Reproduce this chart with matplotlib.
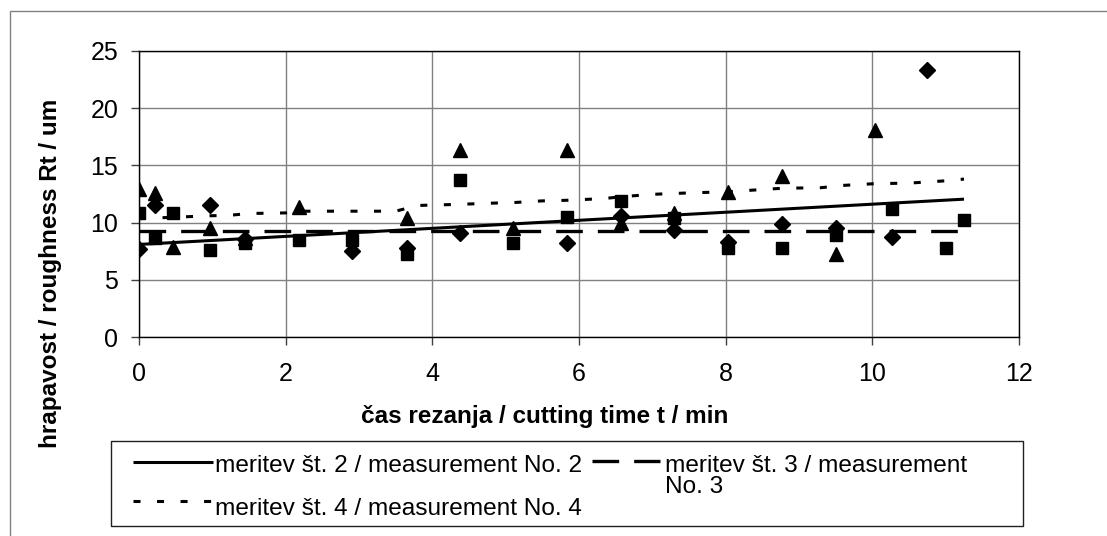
import matplotlib
matplotlib.use("Agg")
import matplotlib.pyplot as plt
from matplotlib.lines import Line2D
from matplotlib.patches import Rectangle

plt.rcParams['font.family'] = ['Liberation Sans', 'DejaVu Sans']

# measurement No. 2 (diamonds)
t2 = [0, 0.22, 0.97, 1.45, 2.9, 3.65, 4.38, 5.83, 6.57, 7.3, 8.03, 8.77, 9.5, 10.27, 10.75]
r2 = [7.7, 11.5, 11.5, 8.6, 7.55, 7.8, 9.07, 8.25, 10.6, 9.4, 8.3, 9.9, 9.5, 8.77, 23.3]
# measurement No. 3 (squares)
t3 = [0, 0.22, 0.47, 0.97, 1.45, 2.18, 2.9, 3.65, 4.38, 5.1, 5.83, 6.57, 7.3, 8.03, 8.77, 9.5, 10.27, 11.0, 11.25]
r3 = [10.8, 8.7, 10.8, 7.6, 8.2, 8.5, 8.5, 7.3, 13.7, 8.2, 10.46, 11.9, 10.37, 7.76, 7.76, 8.9, 11.16, 7.76, 10.2]
# measurement No. 4 (triangles)
t4 = [0, 0.22, 0.47, 0.97, 1.45, 2.18, 3.65, 4.38, 5.1, 5.83, 6.57, 7.3, 8.03, 8.77, 9.5, 10.03]
r4 = [12.9, 12.55, 7.9, 9.5, 8.7, 11.4, 10.4, 16.3, 9.5, 16.3, 10.0, 10.8, 12.7, 14.06, 7.3, 18.07]

# trend lines
trend2_t = [0, 11.25]
trend2_v = [8.1, 12.05]
trend3_t = [0, 11.25]
trend3_v = [9.3, 9.3]
trend4_t = [0, 0.97, 1.25, 1.5, 2.0, 2.18, 3.5, 3.8, 4.38, 4.8, 5.1, 5.5, 5.83, 6.33, 6.65, 7.0, 7.3, 8.03, 8.77, 9.3, 9.6, 10.03, 10.5, 10.75, 11.0, 11.25]
trend4_v = [10.35, 10.6, 10.65, 10.8, 10.85, 11.0, 11.0, 11.5, 11.6, 11.7, 11.75, 11.9, 11.95, 12.1, 12.3, 12.47, 12.55, 12.7, 13.0, 13.05, 13.25, 13.4, 13.45, 13.55, 13.65, 13.8]

xticks = [0, 2, 4, 6, 8, 10, 12]
yticks = [0, 5, 10, 15, 20, 25]

label2 = "meritev št. 2 / measurement No. 2"
label3a = "meritev št. 3 / measurement"
label3b = "No. 3"
label4 = "meritev št. 4 / measurement No. 4"
xlabel = "čas rezanja / cutting time t / min"
ylabel = "hrapavost / roughness Rt / um"

W, H = 1107, 536
fig = plt.figure(figsize=(W / 100, H / 100), dpi=100)
fig.patch.set_facecolor('white')

def fx(px):
    return px / W

def fy(py):
    return 1 - py / H

# outer chart border
fig.add_artist(Rectangle((fx(10), fy(545)), fx(1107 + 20) - fx(10), fy(11) - fy(545),
                         transform=fig.transFigure, fill=False, edgecolor='#808080', lw=1.0))

ax = fig.add_axes([fx(139), fy(337.3), fx(1019) - fx(139), fy(50.7) - fy(337.3)])

sty_solid = dict(color='black', lw=2.2, solid_capstyle='butt')
sty_dash = dict(color='black', lw=2.4, dashes=(8, 4.5), dash_capstyle='butt')
sty_dot = dict(color='black', lw=2.2, dashes=(2.3, 5.4), dash_capstyle='butt')

ax.plot(t2, r2, linestyle='none', marker='D', ms=8.3, color='black', zorder=3)
ax.plot(t3, r3, linestyle='none', marker='s', ms=9.0, color='black', zorder=3)
ax.plot(t4, r4, linestyle='none', marker='^', ms=9.5, color='black', zorder=3)

ax.plot(trend2_t, trend2_v, zorder=4, **sty_solid)
ax.plot(trend3_t, trend3_v, zorder=4, **sty_dash)
ax.plot(trend4_t, trend4_v, zorder=4, **sty_dot)

ax.set_xlim(0, 12)
ax.set_ylim(0, 25)
ax.set_xticks(xticks)
ax.set_yticks(yticks)
ax.grid(True, color='#808080', lw=1.0)
ax.set_axisbelow(True)
for s in ax.spines.values():
    s.set_color('black')
    s.set_linewidth(1.0)
ax.tick_params(axis='both', direction='out', length=5.5, width=1.0, color='#404040',
               labelsize=18)
ax.tick_params(axis='x', pad=12)
ax.tick_params(axis='y', pad=9.5)

fig.text(fx(51), fy(273), ylabel, rotation=90, ha='center', va='center',
         fontsize=17.5, fontweight='bold')
fig.text(fx(545), fy(416), xlabel, ha='center', va='center',
         fontsize=17.5, fontweight='bold')

# legend box
fig.add_artist(Rectangle((fx(111), fy(526)), fx(1023) - fx(111), fy(441) - fy(526),
                         transform=fig.transFigure, fill=True, facecolor='white',
                         edgecolor='#202020', lw=1.0))
fig.add_artist(Line2D([fx(133), fx(213)], [fy(462), fy(462)], transform=fig.transFigure, **sty_solid))
fig.add_artist(Line2D([fx(591.7), fx(660)], [fy(461), fy(461)], transform=fig.transFigure, **sty_dash))
fig.add_artist(Line2D([fx(133), fx(212)], [fy(501), fy(501)], transform=fig.transFigure, **sty_dot))

lfs = 17.6
fig.text(fx(215), fy(471.7), label2, ha='left', va='baseline', fontsize=lfs)
fig.text(fx(665), fy(471.7), label3a, ha='left', va='baseline', fontsize=lfs)
fig.text(fx(665), fy(493.3), label3b, ha='left', va='baseline', fontsize=lfs)
fig.text(fx(215), fy(515), label4, ha='left', va='baseline', fontsize=lfs)

fig.savefig('out.png', dpi=100, facecolor='white')
